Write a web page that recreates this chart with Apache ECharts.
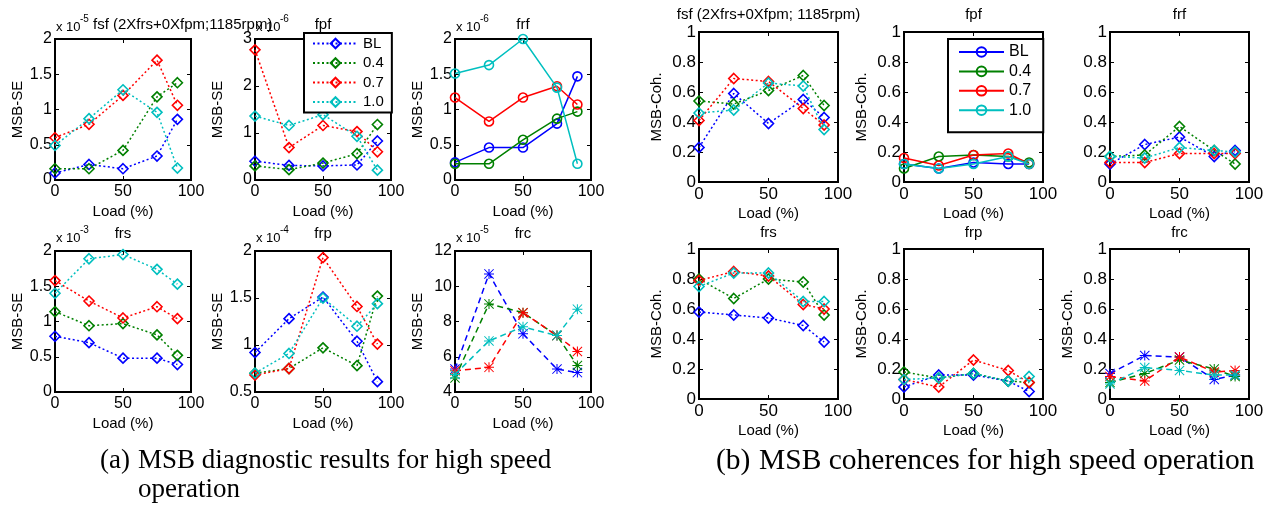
<!DOCTYPE html>
<html><head><meta charset="utf-8">
<script src="https://cdn.jsdelivr.net/npm/echarts@6/dist/echarts.min.js"></script>
<style>html,body{margin:0;padding:0;background:#fff}#c{width:1267px;height:506px}</style>
</head><body><div id="c"></div>
<script>
// ---------------- data ----------------
const loads = [0, 25, 50, 75, 90];
const groupNames = ['BL', '0.4', '0.7', '1.0'];
const xTicks = { min: 0, max: 100, step: 50 };

// (a) MSB-SE values, in units of the axis multiplier (rows: BL, 0.4, 0.7, 1.0)
const seFsf = [[0.10,0.22,0.16,0.34,0.86],[0.16,0.16,0.42,1.18,1.38],[0.60,0.79,1.20,1.70,1.06],[0.49,0.87,1.28,0.96,0.17]];
const seFpf = [[0.40,0.31,0.30,0.32,0.83],[0.30,0.22,0.36,0.56,1.18],[2.77,0.69,1.16,1.03,0.60],[1.36,1.16,1.39,0.93,0.21]];
const seFrf = [[0.25,0.46,0.46,0.80,1.47],[0.23,0.23,0.57,0.87,0.97],[1.17,0.83,1.17,1.33,1.07],[1.51,1.63,2.00,1.31,0.23]];
const seFrs = [[0.79,0.70,0.48,0.48,0.39],[1.14,0.94,0.97,0.81,0.52],[1.58,1.29,1.05,1.21,1.04],[1.40,1.89,1.95,1.74,1.53]];
const seFrp = [[0.92,1.28,1.51,1.04,0.61],[0.70,0.75,0.97,0.78,1.52],[0.68,0.75,1.93,1.41,1.01],[0.70,0.91,1.50,1.20,1.44]];
const seFrc = [[5.3,10.7,7.3,5.3,5.1],[4.8,9.0,8.5,7.2,5.5],[5.2,5.4,8.5,7.2,6.3],[5.0,6.9,7.7,7.2,8.7]];
const seTitles = ['fsf (2Xfrs+0Xfpm;1185rpm)', 'fpf', 'frf', 'frs', 'frp', 'frc'];
const seExponents = ['-5', '-6', '-6', '-3', '-4', '-5'];
const seYMin = [0, 0, 0, 0, 0.5, 4];
const seYMax = [2, 3, 2, 2, 2, 12];
const seYStep = [0.5, 1, 0.5, 0.5, 0.5, 2];

// (b) MSB coherence values
const cohFsf = [[0.23,0.59,0.39,0.55,0.43],[0.54,0.52,0.61,0.71,0.51],[0.41,0.69,0.67,0.49,0.38],[0.46,0.48,0.66,0.64,0.35]];
const cohFpf = [[0.12,0.09,0.13,0.12,0.12],[0.09,0.17,0.18,0.17,0.13],[0.16,0.11,0.18,0.19,0.12],[0.12,0.09,0.12,0.17,0.12]];
const cohFrf = [[0.12,0.25,0.30,0.17,0.21],[0.17,0.18,0.37,0.21,0.12],[0.13,0.13,0.19,0.19,0.19],[0.17,0.16,0.23,0.21,0.20]];
const cohFrs = [[0.58,0.56,0.54,0.49,0.38],[0.80,0.67,0.80,0.78,0.56],[0.79,0.85,0.82,0.63,0.60],[0.75,0.84,0.84,0.65,0.65]];
const cohFrp = [[0.08,0.16,0.16,0.12,0.05],[0.18,0.14,0.17,0.12,0.11],[0.13,0.08,0.26,0.19,0.11],[0.13,0.14,0.17,0.12,0.15]];
const cohFrc = [[0.17,0.29,0.28,0.13,0.16],[0.11,0.17,0.26,0.20,0.15],[0.15,0.12,0.28,0.18,0.19],[0.10,0.21,0.19,0.16,0.16]];
const cohTitles = ['fsf (2Xfrs+0Xfpm; 1185rpm)', 'fpf', 'frf', 'frs', 'frp', 'frc'];
const cohY = { min: 0, max: 1, step: 0.2 };

const captionA1 = 'MSB diagnostic results for high speed';
const captionA2 = 'operation';
const captionB = 'MSB coherences for high speed operation';

// ---------------- styling / layout ----------------
const colors = ['#0000ff', '#008000', '#ff0000', '#00bfbf'];
const SANS = "'Liberation Sans', Arial, sans-serif";
const SERIF = "'Liberation Serif', 'Times New Roman', serif";
const STAR = 'path://M4.5,0h1v10h-1z M0,4.5h10v1h-10z M0.7,0L10,9.3L9.3,10L0,0.7Z M9.3,0L10,0.7L0.7,10L0,9.3Z';
const styles = {
  dot:   { type: [2, 2.5], symbol: 'diamond', size: 10 },
  solid: { type: 'solid',  symbol: 'circle',  size: 9 },
  dash:  { type: [6, 4],   symbol: STAR,      size: 10 }
};

const grids = [], xAxes = [], yAxes = [], series = [], graphics = [];

function addPanel(p) {
  const gi = grids.length;
  grids.push({ left: p.left, top: p.top, width: p.width, height: p.height, show: true,
    borderColor: '#000', borderWidth: 2, backgroundColor: 'rgba(0,0,0,0)' });
  const tick = { show: true, inside: true, length: 4, lineStyle: { color: '#000', width: 1 } };
  const lbl = { color: '#000', fontSize: p.labelSize, fontFamily: SANS };
  xAxes.push({ gridIndex: gi, type: 'value', position: 'bottom', min: xTicks.min, max: xTicks.max, interval: xTicks.step,
    axisLine: { show: false, onZero: false }, axisTick: tick, splitLine: { show: false },
    axisLabel: Object.assign({ margin: 4 }, lbl),
    name: 'Load (%)', nameLocation: 'middle', nameGap: 24,
    nameTextStyle: { color: '#000', fontSize: 15, fontFamily: SANS } });
  xAxes.push({ gridIndex: gi, type: 'value', position: 'top', min: xTicks.min, max: xTicks.max, interval: xTicks.step,
    axisLine: { show: false, onZero: false }, axisTick: tick, splitLine: { show: false }, axisLabel: { show: false } });
  yAxes.push({ gridIndex: gi, type: 'value', position: 'left', min: p.yMin, max: p.yMax, interval: p.yStep,
    axisLine: { show: false, onZero: false }, axisTick: tick, splitLine: { show: false },
    axisLabel: Object.assign({ margin: 3 }, lbl),
    name: p.yName, nameLocation: 'middle', nameGap: p.nameGap,
    nameTextStyle: { color: '#000', fontSize: 15, fontFamily: SANS } });
  yAxes.push({ gridIndex: gi, type: 'value', position: 'right', min: p.yMin, max: p.yMax, interval: p.yStep,
    axisLine: { show: false, onZero: false }, axisTick: tick, splitLine: { show: false }, axisLabel: { show: false } });
  const st = styles[p.style];
  p.data.forEach((vals, g) => {
    const filled = p.style === 'dash';
    series.push({
      type: 'line', name: groupNames[g] + (p.legendSuffix || ''),
      xAxisIndex: 2 * gi, yAxisIndex: 2 * gi,
      data: loads.map((x, i) => [x, vals[i]]),
      symbol: st.symbol, symbolSize: st.size, showAllSymbol: true,
      lineStyle: { color: colors[g], width: 1.5, type: st.type },
      itemStyle: filled ? { color: colors[g] } : { color: 'rgba(0,0,0,0)', borderColor: colors[g], borderWidth: 1.6 },
      emphasis: { disabled: true }, animation: false, z: 3 + g
    });
  });
}

function text(str, x, y, size, align, family, vAlign) {
  graphics.push({ type: 'text', silent: true, z: 10,
    style: { text: str, x: x, y: y, fontSize: size, fontFamily: family || SANS, fill: '#000',
      align: align || 'left', verticalAlign: vAlign || 'middle' } });
}

// (a) panels
const seStyles = ['dot', 'dot', 'solid', 'dot', 'dot', 'dash'];
const seCols = [55, 255, 455], seRows = [39, 251], seW = 136, seH = 141;
[seFsf, seFpf, seFrf, seFrs, seFrp, seFrc].forEach((d, i) => {
  const c = i % 3, r = Math.floor(i / 3);
  addPanel({ left: seCols[c], top: seRows[r], width: seW, height: seH, yMin: seYMin[i], yMax: seYMax[i], yStep: seYStep[i],
    yName: 'MSB-SE', nameGap: 30, data: d, style: seStyles[i], labelSize: 16 });
  const tY = r === 0 ? 25 : 234, eY = r === 0 ? 27 : 238;
  text('x 10', seCols[c] + 1, eY, 13);
  text(seExponents[i], seCols[c] + 25, eY - 8, 10);
  if (i === 0) text(seTitles[i], 93, tY, 15, 'left');
  else text(seTitles[i], seCols[c] + seW / 2, tY, 15, 'center');
});

// (b) panels
const cohStyles = ['dot', 'solid', 'dot', 'dot', 'dot', 'dash'];
const cohCols = [699, 904, 1110], cohRows = [32, 249], cohW = 139, cohH = 150;
[cohFsf, cohFpf, cohFrf, cohFrs, cohFrp, cohFrc].forEach((d, i) => {
  const c = i % 3, r = Math.floor(i / 3);
  addPanel({ left: cohCols[c], top: cohRows[r], width: cohW, height: cohH, yMin: cohY.min, yMax: cohY.max, yStep: cohY.step,
    yName: i === 2 ? '' : 'MSB-Coh.', nameGap: 35, data: d, style: cohStyles[i], labelSize: 17,
    legendSuffix: i === 1 ? ' ' : '' });
  text(cohTitles[i], cohCols[c] + cohW / 2, r === 0 ? 15 : 233, 15, 'center');
});

// captions
text('(a)', 100, 461, 27, 'left', SERIF);
text(captionA1, 138, 461, 27, 'left', SERIF);
text(captionA2, 138, 490, 27, 'left', SERIF);
text('(b)', 716, 461, 29.5, 'left', SERIF);
text(captionB, 759, 461, 29.5, 'left', SERIF);

const legendBase = { orient: 'vertical', itemWidth: 45, itemHeight: 12, selectedMode: false,
  borderColor: '#000', borderWidth: 2, borderRadius: 0, backgroundColor: '#fff', z: 8 };
const option = {
  animation: false,
  backgroundColor: '#fff',
  grid: grids, xAxis: xAxes, yAxis: yAxes, series: series,
  legend: [
    Object.assign({}, legendBase, { data: groupNames.slice(), left: 304, top: 33, padding: [3, 8, 3, 8], itemGap: 4.5,
      textStyle: { fontSize: 15, lineHeight: 15, color: '#000', fontFamily: SANS } }),
    Object.assign({}, legendBase, { data: groupNames.map(n => n + ' '), formatter: n => n.trim(), left: 948, top: 39,
      padding: [5, 12, 14, 10], itemGap: 3.4, textStyle: { fontSize: 16, lineHeight: 16, color: '#000', fontFamily: SANS } })
  ],
  graphic: graphics
};
const chart = echarts.init(document.getElementById('c'), null, { renderer: 'canvas' });
chart.setOption(option);
</script></body></html>
